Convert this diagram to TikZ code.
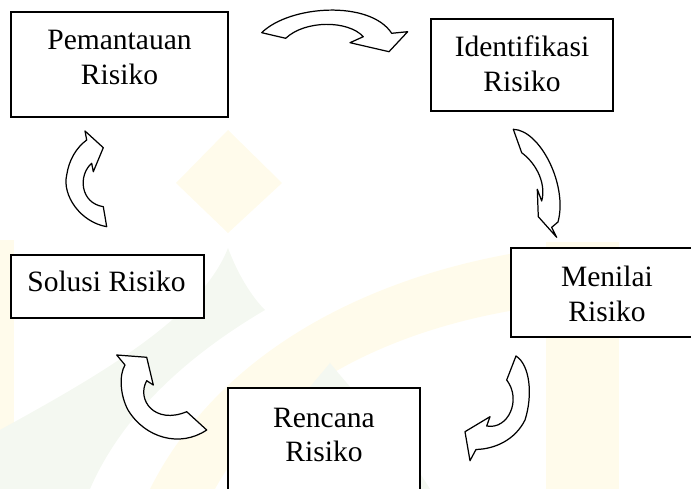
\documentclass[tikz,border=0pt]{standalone}
\usepackage{fontspec}
\setmainfont{Liberation Serif}
\definecolor{wmyellow}{RGB}{255,251,235}
\definecolor{wmgreen}{RGB}{244,248,241}
\tikzset{
  kotak/.style={shape=rectangle,draw=black,fill=white,line width=0.8pt,inner sep=0pt},
  teks/.style={align=center,inner sep=0pt,font=\fontsize{16.8}{19.9}\selectfont},
  panah/.style={draw=black,fill=white,line width=0.7pt,line join=round}
}
\begin{document}
\begin{tikzpicture}[x=0.02cm,y=-0.02cm]
    \useasboundingbox (0,0) rectangle (691,489);
    \clip (0,0) rectangle (691,489);
    % watermark
    \fill[wmyellow] (228,130) -- (282,183) -- (228,233) -- (176,183) -- cycle;
    \fill[wmyellow] (546,242) rectangle (619,489);
    \fill[wmyellow] (0,240) rectangle (14,489);
    \fill[wmyellow] (150,489) .. controls (230,330) and (420,250) .. (619,242) -- (619,300) .. controls (440,305) and (280,370) .. (215,489) -- cycle;
    \fill[wmgreen] (0,430) .. controls (90,380) and (200,320) .. (228,248) .. controls (240,280) and (255,300) .. (265,310) .. controls (180,360) and (120,420) .. (90,489) -- (0,489) -- cycle;
    \fill[wmgreen] (230,489) .. controls (260,440) and (300,400) .. (330,363) .. controls (360,400) and (400,440) .. (430,489) -- cycle;
    % boxes
    \node[kotak,minimum width=4.34cm,minimum height=2.1cm] (pemantauan) at (119.5,64.5) {};
    \node[kotak,minimum width=3.64cm,minimum height=1.84cm] (identifikasi) at (522,65) {};
    \node[kotak,minimum width=3.84cm,minimum height=1.78cm] (menilai) at (607,292.5) {};
    \node[kotak,minimum width=3.84cm,minimum height=2.24cm] (rencana) at (324,444) {};
    \node[kotak,minimum width=3.86cm,minimum height=1.26cm] (solusi) at (107.5,286.5) {};
    % texts
    \node[teks] (tPemantauan) at (119.5,57.5) {Pemantauan\\Risiko};
    \node[teks] (tIdentifikasi) at (522,64) {Identifikasi\\Risiko};
    \node[teks] (tMenilai) at (607,293.5) {Menilai\\Risiko};
    \node[teks] (tRencana) at (324,435) {Rencana\\Risiko};
    \node[teks] (tSolusi) at (106.5,281) {Solusi Risiko};
    % curved arrows
    \path[panah] (261.7,32.7) .. controls (290,5) and (370,0) .. (391.7,33.3) -- (407.7,31.7) -- (389,51.7) -- (350,42.7) -- (363.3,36.7)
        .. controls (348,20) and (305,20) .. (285.7,38.3) -- cycle;
    \path[panah] (513.3,129.3) .. controls (540,130) and (568,185) .. (558,222) -- (551.7,227.3) -- (556.7,237.3) -- (538.3,216.7) -- (537.3,189.3) -- (541.7,201)
        .. controls (546,185) and (538,165) .. (521.7,152.7) -- cycle;
    \path[panah] (516,356) .. controls (530,365) and (533,395) .. (525,420) .. controls (515,440) and (495,449) .. (476,449.5) -- (470,460.7) -- (465,431.7) -- (490,416.7) -- (486.7,426)
        .. controls (508,430) and (522,400) .. (506.7,380) -- cycle;
    \path[panah] (206.7,430) .. controls (180,448) and (145,438) .. (128,410) .. controls (120,395) and (119,375) .. (125,365) -- (116.7,355) -- (146.7,357.3) -- (153.3,385) -- (146.7,380.7)
        .. controls (136,400) and (155,425) .. (186.7,411.7) -- cycle;
    \path[panah] (106.7,226.7) .. controls (80,222) and (62,195) .. (66.7,175) .. controls (69,160) and (76,148) .. (86.7,140) -- (85,131) -- (103.3,147.7) -- (93.3,171.7) -- (91.7,163.3)
        .. controls (78,175) and (80,203) .. (103.3,206.7) -- cycle;
\end{tikzpicture}
\end{document}
